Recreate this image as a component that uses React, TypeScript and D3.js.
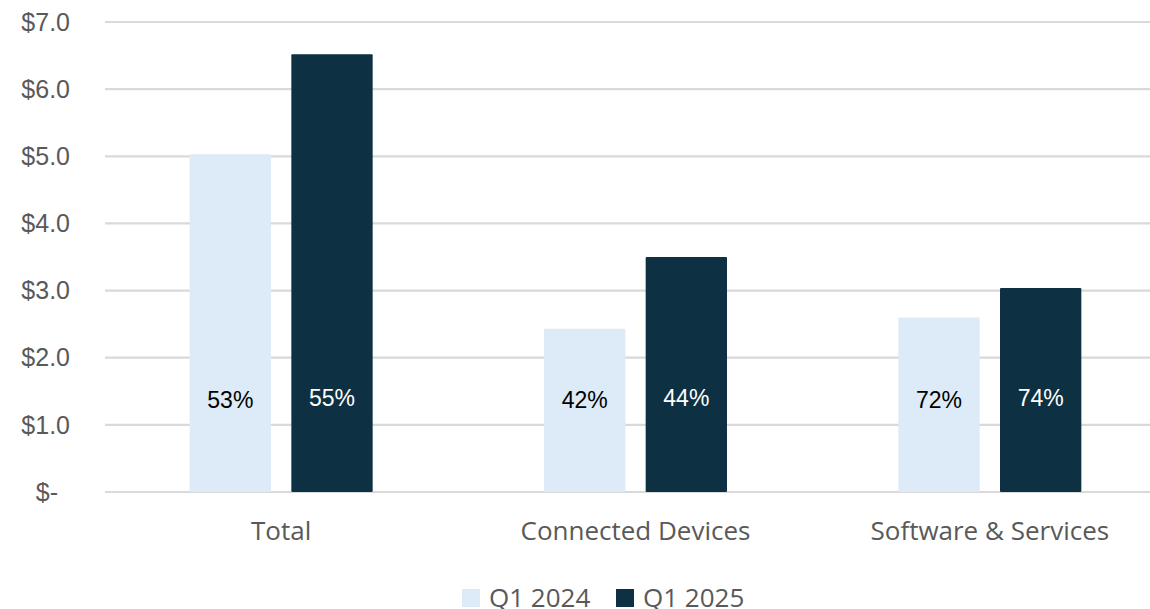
import React from "react";
import * as d3 from "d3";

const categories = ["Total", "Connected Devices", "Software & Services"];
const seriesNames = ["Q1 2024", "Q1 2025"];
const q1_2024 = [5.03, 2.43, 2.6];
const q1_2025 = [6.52, 3.5, 3.04];
const pct2024 = ["53%", "42%", "72%"];
const pct2025 = ["55%", "44%", "74%"];
const yTicks = [0, 1, 2, 3, 4, 5, 6, 7];
const yTickLabels = ["$-", "$1.0", "$2.0", "$3.0", "$4.0", "$5.0", "$6.0", "$7.0"];
const colors = ["#DDEAF7", "#0D3042"];

export default function App() {
  const W = 1150, H = 609;
  const left = 104, right = 1167, top = 22, bottom = 492;
  const x = d3.scaleBand<string>().domain(categories).range([left, right]).paddingInner(0).paddingOuter(0);
  const y = d3.scaleLinear().domain([0, 7]).range([bottom, top]);
  const groupW = 183;
  const inner = d3.scaleBand<string>().domain(seriesNames).range([0, groupW]).paddingInner(0.2).paddingOuter(0);
  const series = [q1_2024, q1_2025];
  const pcts = [pct2024, pct2025];
  const labelFont = "'Liberation Sans', Arial, sans-serif";
  const catFont = "'Open Sans', Lato, sans-serif";
  return (
    <svg width={W} height={H} style={{ position: "absolute", left: 0, top: 0 }}>
      <rect width={W} height={H} fill="#fff" />
      {yTicks.map((t, i) => (
        <g key={t}>
          <line x1={left + 1} x2={W} y1={y(t)} y2={y(t)} stroke="#D9D9D9" strokeWidth={2.2} />
          <text
            x={t === 0 ? 58 : 70}
            y={y(t)}
            dy="0.35em"
            textAnchor="end"
            fontFamily={labelFont}
            fontSize={25}
            fill="#595959"
          >
            {yTickLabels[i]}
          </text>
        </g>
      ))}
      {categories.map((c, ci) => {
        const g0 = (x(c) as number) + x.bandwidth() / 2 - groupW / 2;
        return (
          <g key={c}>
            {series.map((s, si) => {
              const bx = g0 + (inner(seriesNames[si]) as number);
              const bw = inner.bandwidth();
              return (
                <g key={si}>
                  <rect x={bx} y={y(s[ci])} width={bw} height={bottom - y(s[ci])} fill={colors[si]} rx={1} />
                  <text
                    x={bx + bw / 2}
                    y={si === 0 ? 399.5 : 397.5}
                    dy="0.35em"
                    textAnchor="middle"
                    fontFamily={labelFont}
                    fontSize={23}
                    fill={si === 0 ? "#000" : "#fff"}
                  >
                    {pcts[si][ci]}
                  </text>
                </g>
              );
            })}
            <text
              x={(x(c) as number) + x.bandwidth() / 2}
              y={540}
              textAnchor="middle"
              fontFamily={catFont}
              fontSize={26}
              fill="#595959"
            >
              {c}
            </text>
          </g>
        );
      })}
      {seriesNames.map((n, i) => {
        const lx = i === 0 ? 462 : 616;
        return (
          <g key={n}>
            <rect x={lx} y={589} width={18} height={18} fill={colors[i]} />
            <text x={lx + 27} y={606.5} fontFamily={catFont} fontSize={26} fill="#595959">
              {n}
            </text>
          </g>
        );
      })}
    </svg>
  );
}
